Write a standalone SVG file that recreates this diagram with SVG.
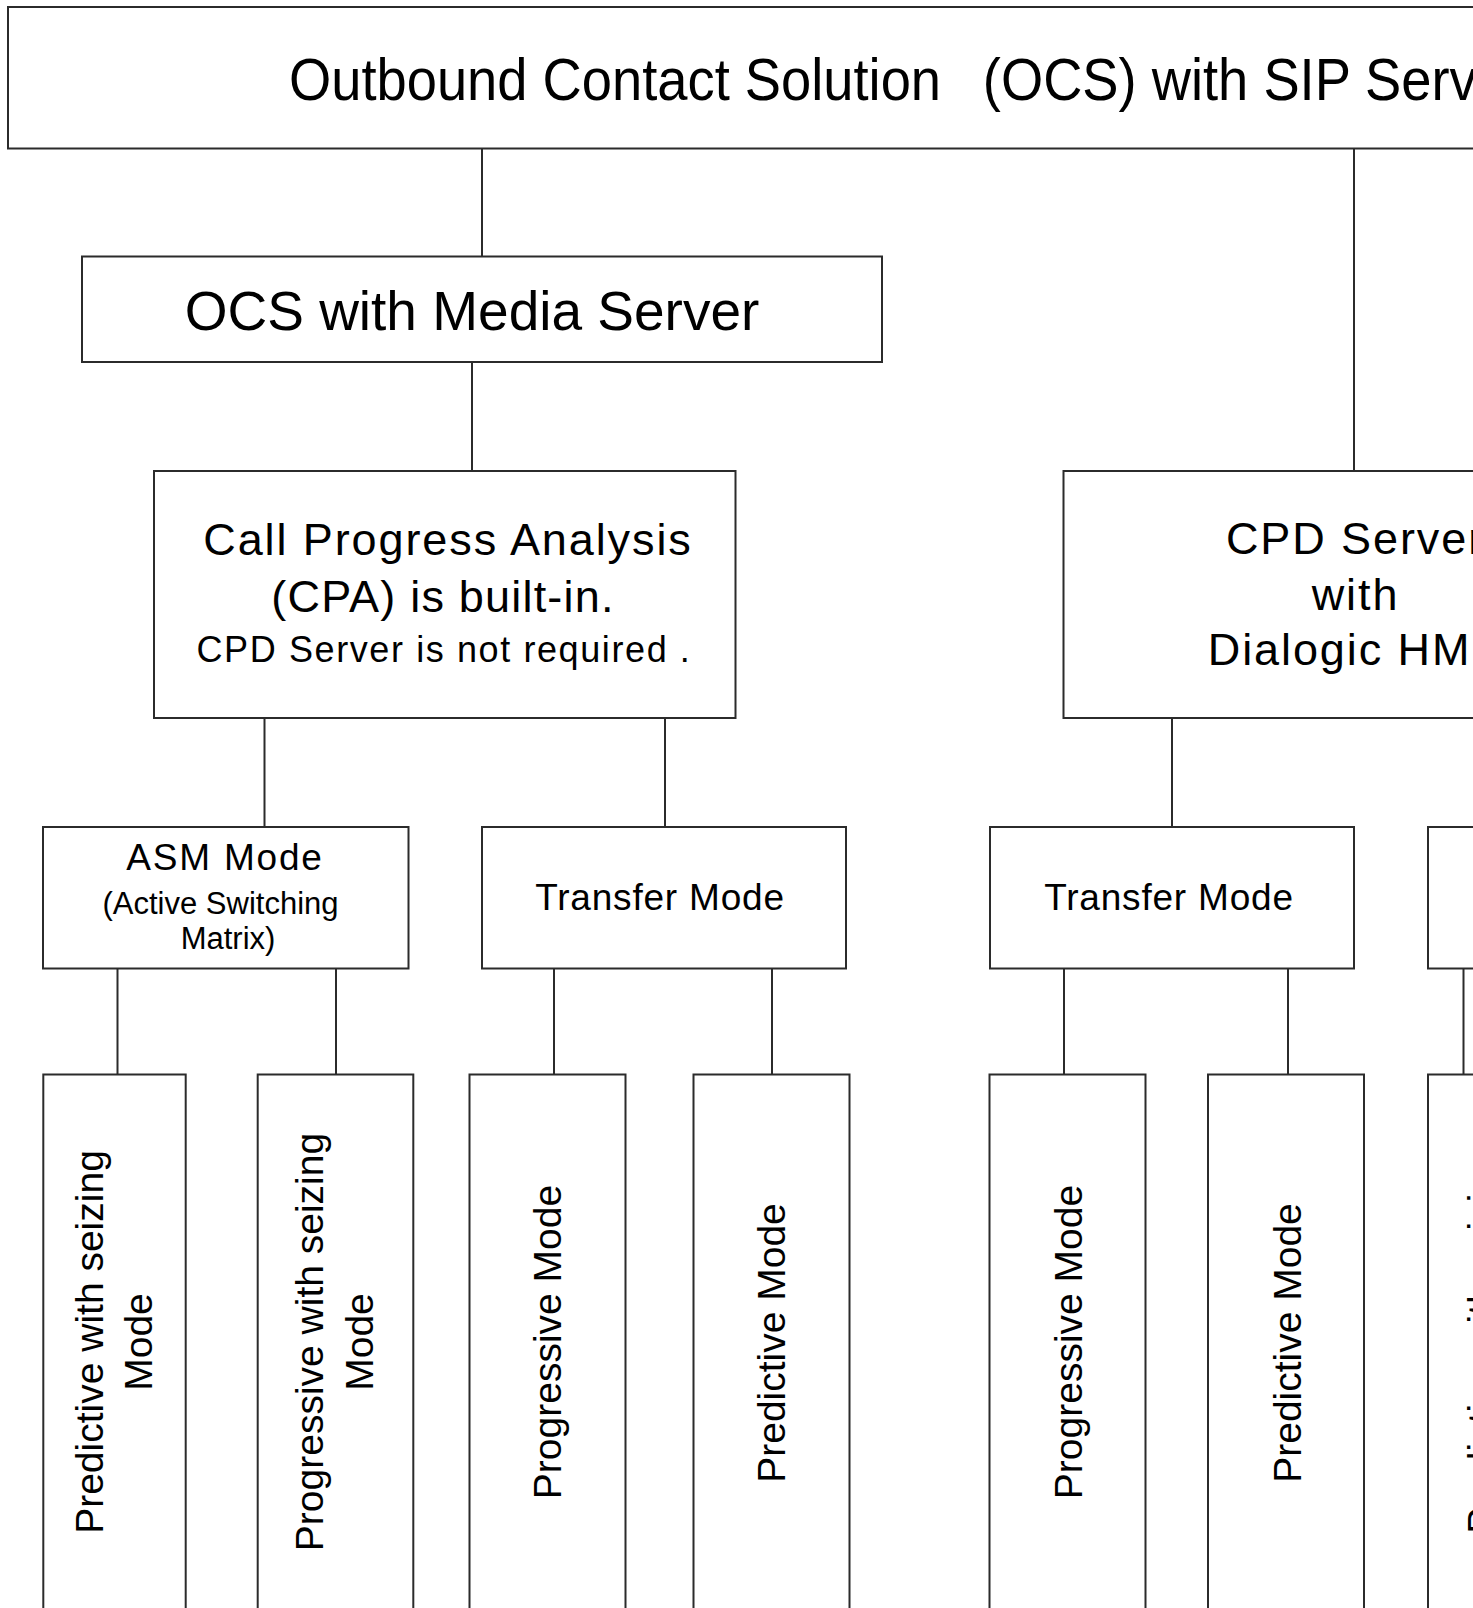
<svg xmlns="http://www.w3.org/2000/svg" width="1473" height="1608" viewBox="0 0 1473 1608">
<style>
.box{fill:#fff;stroke:#2b2b2b;stroke-width:2}
.con line{stroke:#2b2b2b;stroke-width:2}
text{font-family:"Liberation Sans",Arial,sans-serif;fill:#000}
.m{text-anchor:middle}
.leaf{font-size:39px;text-anchor:middle}
</style>
<rect width="1473" height="1608" fill="#fff"/>
<g id="connectors" class="con">
<line x1="482" y1="148.5" x2="482" y2="256.5"/>
<line x1="1354" y1="148.5" x2="1354" y2="471"/>
<line x1="472" y1="362" x2="472" y2="471"/>
<line x1="264.5" y1="718" x2="264.5" y2="827"/>
<line x1="665" y1="718" x2="665" y2="827"/>
<line x1="1172" y1="718" x2="1172" y2="827"/>
<line x1="117.5" y1="968.5" x2="117.5" y2="1074.5"/>
<line x1="336" y1="968.5" x2="336" y2="1074.5"/>
<line x1="554" y1="968.5" x2="554" y2="1074.5"/>
<line x1="772" y1="968.5" x2="772" y2="1074.5"/>
<line x1="1064" y1="968.5" x2="1064" y2="1074.5"/>
<line x1="1288" y1="968.5" x2="1288" y2="1074.5"/>
<line x1="1463.5" y1="968.5" x2="1463.5" y2="1074.5"/>
</g>
<g id="ocs">
<rect class="box" x="8" y="7" width="1700" height="141.5"/>
<text transform="translate(289,99.5) scale(0.905,1)" font-size="60"><tspan x="0">Outbound Contact Solution</tspan><tspan x="750"> (OCS) with SIP Server</tspan></text>
</g>
<g id="media">
<rect class="box" x="82" y="256.5" width="800" height="105.5"/>
<text class="m" x="472" y="330" font-size="55">OCS with Media Server</text>
</g>
<g id="cpa">
<rect class="box" x="154" y="471" width="581.5" height="247"/>
<text class="m" x="448" y="554.5" font-size="45" letter-spacing="1.9">Call Progress Analysis</text>
<text class="m" x="443" y="611.5" font-size="45" letter-spacing="1.2">(CPA) is built-in.</text>
<text class="m" x="444" y="661.5" font-size="36" letter-spacing="1.6">CPD Server is not required .</text>
</g>
<g id="cpd">
<rect class="box" x="1063.5" y="471" width="600" height="247"/>
<text class="m" x="1355.5" y="553.5" font-size="45" letter-spacing="1.9">CPD Server</text>
<text class="m" x="1355.5" y="610" font-size="45" letter-spacing="1.9">with</text>
<text class="m" x="1355.5" y="665" font-size="45" letter-spacing="1.9">Dialogic HMP</text>
</g>
<g id="asm1">
<rect class="box" x="43" y="827" width="365.5" height="141.5"/>
<text class="m" x="225" y="869.5" font-size="37" letter-spacing="1.8">ASM Mode</text>
<text class="m" x="220.5" y="913.5" font-size="31">(Active Switching</text>
<text class="m" x="228" y="948.5" font-size="31">Matrix)</text>
</g>
<g id="transfer1">
<rect class="box" x="482" y="827" width="364" height="141.5"/>
<text class="m" x="660" y="909.5" font-size="37" letter-spacing="0.8">Transfer Mode</text>
</g>
<g id="transfer2">
<rect class="box" x="990" y="827" width="364" height="141.5"/>
<text class="m" x="1169" y="909.5" font-size="37" letter-spacing="0.8">Transfer Mode</text>
</g>
<g id="asm2">
<rect class="box" x="1428" y="827" width="365" height="141.5"/>
</g>
<g id="leaf1">
<rect class="box" x="43.3" y="1074.5" width="142.4" height="600"/>
<text class="leaf" transform="translate(114.5,1342) rotate(-90)"><tspan x="0" y="-11.8">Predictive with seizing</tspan><tspan x="0" y="37.2">Mode</tspan></text>
</g>
<g id="leaf2">
<rect class="box" x="257.7" y="1074.5" width="155.6" height="600"/>
<text class="leaf" transform="translate(335.5,1342) rotate(-90)"><tspan x="0" y="-12.2">Progressive with seizing</tspan><tspan x="0" y="37.8">Mode</tspan></text>
</g>
<g id="leaf3">
<rect class="box" x="469.5" y="1074.5" width="156" height="600"/>
<text class="leaf" transform="translate(547.5,1342) rotate(-90)" y="13.5">Progressive Mode</text>
</g>
<g id="leaf4">
<rect class="box" x="693.5" y="1074.5" width="156" height="600"/>
<text class="leaf" transform="translate(771.5,1343) rotate(-90)" y="13.5">Predictive Mode</text>
</g>
<g id="leaf5">
<rect class="box" x="989.5" y="1074.5" width="156" height="600"/>
<text class="leaf" transform="translate(1067.5,1342) rotate(-90)" y="14.5">Progressive Mode</text>
</g>
<g id="leaf6">
<rect class="box" x="1208" y="1074.5" width="156" height="600"/>
<text class="leaf" transform="translate(1286,1343) rotate(-90)" y="14.5">Predictive Mode</text>
</g>
<g id="leaf7">
<rect class="box" x="1428" y="1074.5" width="142" height="600"/>
<text class="leaf" transform="translate(1507,1342) rotate(-90)" y="-11.8">Predictive with seizing</text>
</g>
</svg>
